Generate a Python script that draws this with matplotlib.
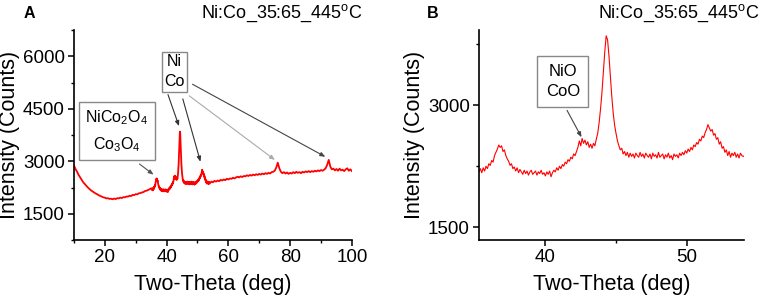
import numpy as np
import matplotlib
matplotlib.use('Agg')
import matplotlib.pyplot as plt
from matplotlib.ticker import MultipleLocator

plt.rcParams['font.family'] = ['Liberation Sans', 'DejaVu Sans']
plt.rcParams['mathtext.fontset'] = 'custom'
plt.rcParams['mathtext.rm'] = 'Liberation Sans'
plt.rcParams['mathtext.it'] = 'Liberation Sans'

# XRD scan, Ni:Co 35:65 annealed at 445 C
theta_low = np.round(np.arange(10.0, 35.01, 0.5), 1)
counts_low = [2880, 2780, 2700, 2610, 2540, 2470, 2400, 2350, 2300, 2250,
              2210, 2170, 2140, 2110, 2080, 2060, 2030, 2010, 1990, 1970,
              1960, 1940, 1945, 1925, 1930, 1915, 1935, 1920, 1945, 1940,
              1960, 1950, 1975, 1970, 1995, 1990, 2015, 2005, 2040, 2035,
              2060, 2055, 2085, 2090, 2110, 2120, 2150, 2160, 2180, 2200,
              2230]

theta_mid = np.round(np.arange(35.3, 54.01, 0.1), 1)
counts_mid = [2180, 2220, 2170, 2230, 2190, 2250, 2220, 2280, 2260, 2320,
              2300, 2380, 2420, 2460, 2510, 2480, 2500, 2430, 2450, 2380,
              2340, 2310, 2260, 2280, 2220, 2240, 2190, 2230, 2170, 2210,
              2180, 2150, 2200, 2160, 2190, 2140, 2180, 2200, 2150, 2170,
              2190, 2140, 2180, 2160, 2200, 2150, 2170, 2130, 2180, 2150,
              2190, 2120, 2170, 2200, 2180, 2230, 2200, 2250, 2220, 2270,
              2250, 2300, 2280, 2330, 2310, 2360, 2340, 2400, 2380, 2430,
              2480, 2560, 2500, 2590, 2530, 2570, 2510, 2550, 2480, 2520,
              2470, 2530, 2500, 2580, 2650, 2780, 2950, 3150, 3400, 3650,
              3850, 3800, 3600, 3350, 3100, 2900, 2750, 2650, 2560, 2500,
              2450, 2470, 2400, 2430, 2380, 2420, 2360, 2410, 2370, 2400,
              2350, 2410, 2380, 2360, 2420, 2370, 2400, 2350, 2410, 2380,
              2360, 2400, 2340, 2410, 2370, 2390, 2350, 2420, 2360, 2380,
              2400, 2340, 2390, 2360, 2410, 2350, 2380, 2330, 2400, 2370,
              2390, 2350, 2410, 2380, 2420, 2390, 2440, 2410, 2460, 2430,
              2480, 2450, 2510, 2490, 2540, 2520, 2580, 2560, 2620, 2600,
              2660, 2700, 2760, 2720, 2680, 2700, 2630, 2650, 2580, 2600,
              2520, 2550, 2470, 2490, 2420, 2450, 2380, 2430, 2360, 2410,
              2380, 2420, 2360, 2400, 2350, 2410, 2380, 2370]

theta_high = np.round(np.arange(54.5, 100.01, 0.5), 1)
counts_high = [2420, 2400, 2440, 2420, 2450, 2430, 2470, 2450, 2480, 2460,
               2500, 2480, 2510, 2500, 2530, 2510, 2540, 2560, 2540, 2570,
               2550, 2580, 2570, 2600, 2580, 2610, 2590, 2620, 2600, 2630,
               2610, 2640, 2620, 2650, 2630, 2660, 2640, 2670, 2650, 2690,
               2700, 2730, 2820, 2960, 2800, 2700, 2660, 2690, 2650, 2680,
               2640, 2670, 2650, 2690, 2660, 2700, 2670, 2690, 2660, 2700,
               2680, 2710, 2690, 2720, 2690, 2720, 2700, 2730, 2710, 2740,
               2720, 2750, 2730, 2760, 2800, 2900, 3040, 2850, 2770, 2790,
               2740, 2780, 2730, 2790, 2740, 2760, 2720, 2770, 2800, 2730,
               2770, 2720]

two_theta = np.concatenate([theta_low, theta_mid, theta_high])
counts = np.concatenate([counts_low, counts_mid, counts_high])

sample_label = 'Ni:Co_35:65_445$^\\mathregular{o}$C'

fig = plt.figure(figsize=(7.65, 2.98), dpi=100)
axA = fig.add_axes([0.0967, 0.1946, 0.3633, 0.7044])
axB = fig.add_axes([0.6261, 0.1946, 0.3464, 0.7044])

for ax in (axA, axB):
    ax.spines['top'].set_visible(False)
    ax.spines['right'].set_visible(False)
    ax.spines['left'].set_linewidth(1.2)
    ax.spines['bottom'].set_linewidth(1.2)
    ax.tick_params(which='major', direction='out', length=4, width=1.1,
                   labelsize=13.5, pad=2.5)
    ax.tick_params(which='minor', direction='out', length=2.5, width=1.0)
    ax.set_xlabel('Two-Theta (deg)', fontsize=15.5, labelpad=6)
    ax.set_ylabel('Intensity (Counts)', fontsize=15.5, labelpad=2)
    ax.yaxis.set_major_locator(MultipleLocator(1500))
    ax.yaxis.set_minor_locator(MultipleLocator(750))

# panel A: full scan
axA.plot(two_theta, counts, color='red', lw=1.3)
axA.set_xlim(10, 100)
axA.set_ylim(750, 6750)
axA.xaxis.set_major_locator(MultipleLocator(20))
axA.xaxis.set_minor_locator(MultipleLocator(10))

axA.text(23.9, 3860, 'NiCo$_2$O$_4$\nCo$_3$O$_4$', fontsize=11.5, ha='center', va='center',
         linespacing=1.6,
         bbox=dict(boxstyle='square,pad=0.4', fc='white', ec='#888888', lw=1.0))
axA.annotate('', xy=(36.5, 2570), xytext=(30.5, 2970),
             arrowprops=dict(arrowstyle='-|>,head_length=0.3,head_width=0.12',
                             color='#555555', lw=0.8))

axA.text(42.6, 5560, 'Ni\nCo', fontsize=11.5, ha='center', va='center', linespacing=1.4,
         bbox=dict(boxstyle='square,pad=0.15', fc='white', ec='#888888', lw=1.0))
arrow_targets = [((40.15, 4980), (44.3, 3930), '#333333'),
                 ((45.0, 4860), (51.2, 2910), '#333333'),
                 ((46.6, 4920), (75.8, 2990), '#aaaaaa'),
                 ((47.6, 5240), (92.2, 3090), '#444444')]
for start, end, col in arrow_targets:
    axA.annotate('', xy=end, xytext=start,
                 arrowprops=dict(arrowstyle='-|>,head_length=0.3,head_width=0.12',
                                 color=col, lw=0.8))

# panel B: zoom around the main peak
axB.plot(two_theta, counts, color='red', lw=0.8)
axB.set_xlim(35.3, 54.05)
axB.set_ylim(1344, 3920)
axB.xaxis.set_major_locator(MultipleLocator(10))
axB.xaxis.set_minor_locator(MultipleLocator(5))

axB.text(41.23, 3290, 'NiO\nCoO', fontsize=12, ha='center', va='center', linespacing=1.35,
         bbox=dict(boxstyle='square,pad=0.5', fc='white', ec='#888888', lw=1.0))
axB.annotate('', xy=(42.65, 2575), xytext=(41.44, 2965),
             arrowprops=dict(arrowstyle='-|>,head_length=0.3,head_width=0.12',
                             color='#444444', lw=0.8))

fig.text(0.039, 0.956, 'A', fontsize=11.5, fontweight='bold', ha='center', va='center')
fig.text(0.4745, 0.956, sample_label, fontsize=13, ha='right', va='center')
fig.text(0.565, 0.956, 'B', fontsize=11.5, fontweight='bold', ha='center', va='center')
fig.text(0.9935, 0.956, sample_label, fontsize=13, ha='right', va='center')

fig.savefig('out.png', dpi=100)
